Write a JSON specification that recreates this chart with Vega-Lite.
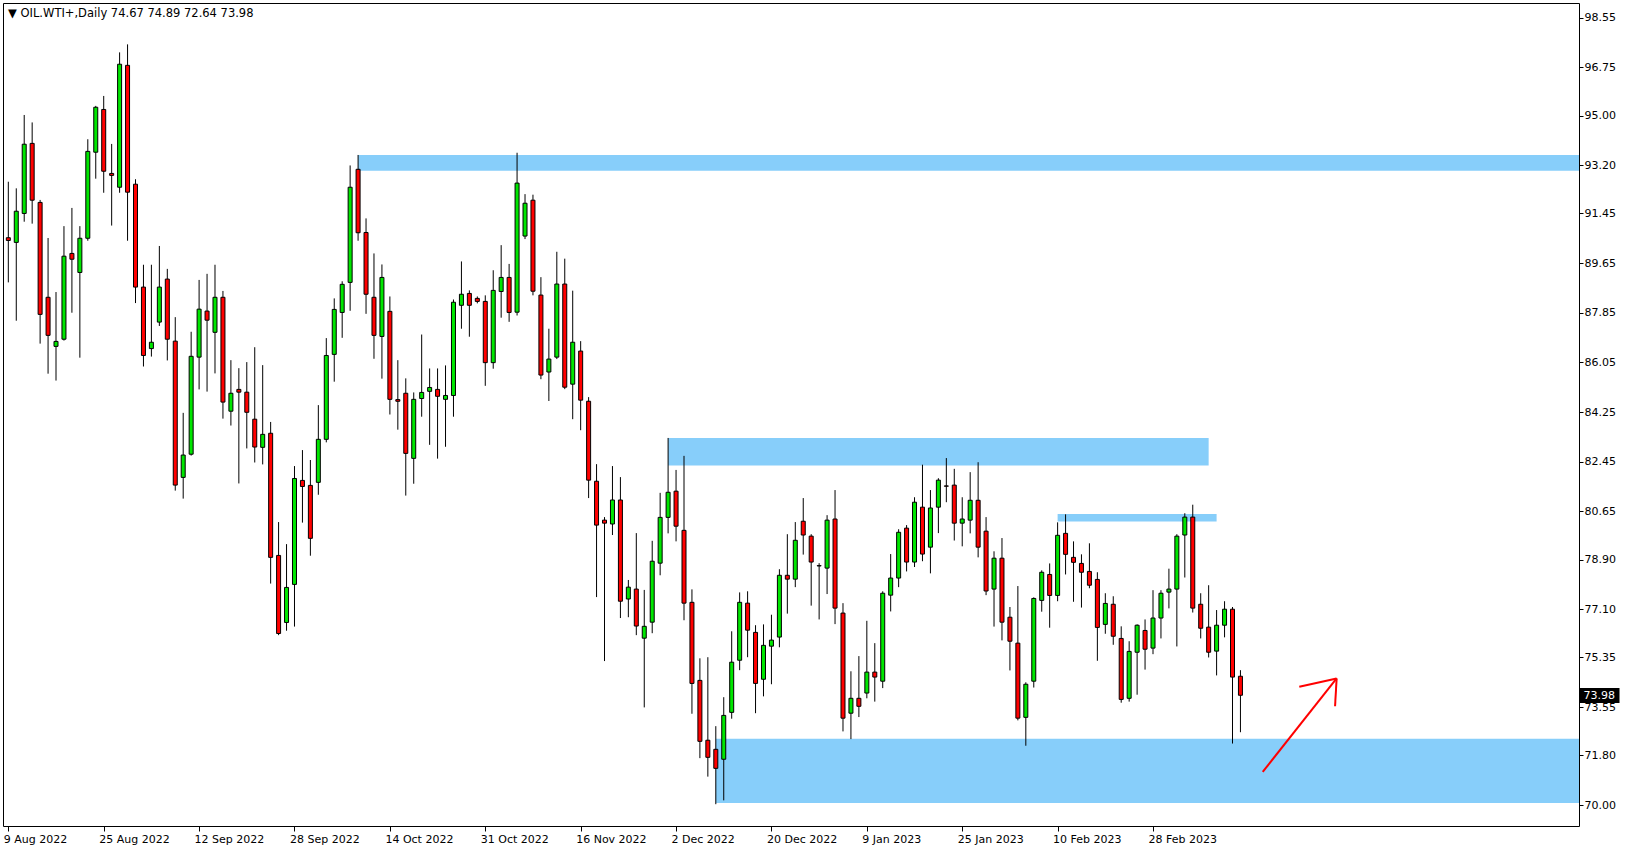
{
  "$schema": "https://vega.github.io/schema/vega-lite/v6.json",
  "width": 1576,
  "height": 823,
  "autosize": {"type": "none"},
  "padding": {"left": 3, "top": 3, "right": 50, "bottom": 24},
  "background": "white",
  "config": {
    "view": {"stroke": "black", "strokeWidth": 1},
    "axis": {"labelFont": "DejaVu Sans", "labelFontSize": 11, "labelColor": "black", "tickColor": "black", "grid": false, "domain": false, "title": null}
  },
  "title": {
    "text": "▼ OIL.WTI+,Daily  74.67 74.89 72.64 73.98",
    "anchor": "start", "frame": "group", "orient": "top",
    "offset": -10, "baseline": "middle", "dx": 5, "dy": 12,
    "font": "DejaVu Sans", "fontSize": 11.5, "fontWeight": "normal", "color": "black"
  },
  "datasets": {
    "zones": [
      {"x1": 45, "x2": 205, "p1": 93.0, "p2": 93.57},
      {"x1": 84, "x2": 152, "p1": 82.31, "p2": 83.31},
      {"x1": 133, "x2": 153, "p1": 80.28, "p2": 80.55},
      {"x1": 90, "x2": 205, "p1": 70.07, "p2": 72.4}
    ],
    "arrow": [
      {"x1": 158.8, "p1": 71.2, "x2": 168.1, "p2": 74.59},
      {"x1": 163.4, "p1": 74.29, "x2": 168.1, "p2": 74.59},
      {"x1": 167.9, "p1": 73.58, "x2": 168.1, "p2": 74.59}
    ],
    "ohlc": [
      {"d":"2022-08-09","o":90.57,"h":92.60,"l":88.95,"c":90.47},
      {"d":"2022-08-10","o":90.40,"h":92.36,"l":87.56,"c":91.53},
      {"d":"2022-08-11","o":91.45,"h":95.02,"l":91.15,"c":93.96},
      {"d":"2022-08-12","o":93.99,"h":94.75,"l":91.08,"c":91.93},
      {"d":"2022-08-15","o":91.85,"h":91.94,"l":86.73,"c":87.79},
      {"d":"2022-08-16","o":88.41,"h":90.56,"l":85.64,"c":87.03},
      {"d":"2022-08-17","o":86.63,"h":88.60,"l":85.39,"c":86.81},
      {"d":"2022-08-18","o":86.89,"h":90.99,"l":86.84,"c":89.90},
      {"d":"2022-08-19","o":90.00,"h":91.65,"l":87.85,"c":89.79},
      {"d":"2022-08-22","o":89.31,"h":90.99,"l":86.22,"c":90.55},
      {"d":"2022-08-23","o":90.55,"h":94.14,"l":90.46,"c":93.70},
      {"d":"2022-08-24","o":93.67,"h":95.35,"l":92.71,"c":95.30},
      {"d":"2022-08-25","o":95.22,"h":95.71,"l":92.20,"c":92.98},
      {"d":"2022-08-26","o":92.90,"h":93.97,"l":91.01,"c":92.83},
      {"d":"2022-08-29","o":92.40,"h":97.29,"l":92.20,"c":96.86},
      {"d":"2022-08-30","o":96.82,"h":97.58,"l":90.46,"c":92.22},
      {"d":"2022-08-31","o":92.51,"h":92.69,"l":88.20,"c":88.78},
      {"d":"2022-09-01","o":88.78,"h":89.59,"l":85.90,"c":86.30},
      {"d":"2022-09-02","o":86.55,"h":89.59,"l":86.26,"c":86.78},
      {"d":"2022-09-05","o":87.51,"h":90.27,"l":87.37,"c":88.78},
      {"d":"2022-09-06","o":89.07,"h":89.44,"l":86.12,"c":86.89},
      {"d":"2022-09-07","o":86.82,"h":87.69,"l":81.40,"c":81.60},
      {"d":"2022-09-08","o":81.88,"h":84.22,"l":81.11,"c":82.69},
      {"d":"2022-09-09","o":82.72,"h":87.16,"l":82.67,"c":86.27},
      {"d":"2022-09-12","o":86.24,"h":89.04,"l":85.07,"c":87.98},
      {"d":"2022-09-13","o":87.91,"h":89.26,"l":84.99,"c":87.58},
      {"d":"2022-09-14","o":87.14,"h":89.59,"l":85.65,"c":88.41},
      {"d":"2022-09-15","o":88.41,"h":88.64,"l":84.01,"c":84.61},
      {"d":"2022-09-16","o":84.28,"h":86.13,"l":83.76,"c":84.93},
      {"d":"2022-09-19","o":85.07,"h":85.84,"l":81.66,"c":84.97},
      {"d":"2022-09-20","o":84.97,"h":86.06,"l":82.93,"c":84.24},
      {"d":"2022-09-21","o":83.99,"h":86.60,"l":82.42,"c":82.98},
      {"d":"2022-09-22","o":82.97,"h":85.95,"l":82.35,"c":83.44},
      {"d":"2022-09-23","o":83.48,"h":83.89,"l":78.03,"c":78.98},
      {"d":"2022-09-26","o":79.05,"h":80.26,"l":76.16,"c":76.22},
      {"d":"2022-09-27","o":76.62,"h":79.46,"l":76.32,"c":77.89},
      {"d":"2022-09-28","o":78.00,"h":82.29,"l":76.47,"c":81.84},
      {"d":"2022-09-29","o":81.77,"h":82.87,"l":80.24,"c":81.55},
      {"d":"2022-09-30","o":81.59,"h":82.51,"l":79.04,"c":79.67},
      {"d":"2022-10-03","o":81.70,"h":84.50,"l":81.25,"c":83.26},
      {"d":"2022-10-04","o":83.26,"h":86.93,"l":83.15,"c":86.30},
      {"d":"2022-10-05","o":86.34,"h":88.37,"l":85.35,"c":87.97},
      {"d":"2022-10-06","o":87.86,"h":88.99,"l":86.94,"c":88.88},
      {"d":"2022-10-07","o":88.95,"h":93.19,"l":87.92,"c":92.40},
      {"d":"2022-10-10","o":93.05,"h":93.57,"l":90.46,"c":90.75},
      {"d":"2022-10-11","o":90.76,"h":91.27,"l":87.81,"c":88.52},
      {"d":"2022-10-12","o":88.41,"h":90.00,"l":86.18,"c":87.03},
      {"d":"2022-10-13","o":86.99,"h":89.60,"l":85.46,"c":89.13},
      {"d":"2022-10-14","o":87.90,"h":88.44,"l":84.16,"c":84.71},
      {"d":"2022-10-17","o":84.70,"h":86.13,"l":83.61,"c":84.64},
      {"d":"2022-10-18","o":84.93,"h":85.47,"l":81.22,"c":82.75},
      {"d":"2022-10-19","o":82.57,"h":84.96,"l":81.65,"c":84.71},
      {"d":"2022-10-20","o":84.74,"h":87.06,"l":84.08,"c":84.96},
      {"d":"2022-10-21","o":85.00,"h":85.83,"l":83.06,"c":85.14},
      {"d":"2022-10-24","o":85.07,"h":85.83,"l":82.56,"c":84.82},
      {"d":"2022-10-25","o":84.71,"h":85.94,"l":82.99,"c":84.85},
      {"d":"2022-10-26","o":84.85,"h":88.33,"l":84.08,"c":88.23},
      {"d":"2022-10-27","o":88.12,"h":89.71,"l":87.27,"c":88.52},
      {"d":"2022-10-28","o":88.55,"h":88.66,"l":86.98,"c":88.12},
      {"d":"2022-10-30","o":88.37,"h":88.44,"l":88.19,"c":88.26},
      {"d":"2022-10-31","o":88.26,"h":88.48,"l":85.20,"c":86.04},
      {"d":"2022-11-01","o":86.04,"h":89.39,"l":85.82,"c":88.66},
      {"d":"2022-11-02","o":88.62,"h":90.30,"l":87.67,"c":89.13},
      {"d":"2022-11-03","o":89.13,"h":89.62,"l":87.52,"c":87.86},
      {"d":"2022-11-04","o":87.87,"h":93.65,"l":87.75,"c":92.55},
      {"d":"2022-11-07","o":90.63,"h":92.15,"l":90.52,"c":91.82},
      {"d":"2022-11-08","o":91.93,"h":92.13,"l":88.48,"c":88.63},
      {"d":"2022-11-09","o":88.49,"h":89.14,"l":85.44,"c":85.59},
      {"d":"2022-11-10","o":85.70,"h":87.27,"l":84.65,"c":86.17},
      {"d":"2022-11-11","o":86.24,"h":90.06,"l":86.17,"c":88.89},
      {"d":"2022-11-14","o":88.89,"h":89.81,"l":85.08,"c":85.15},
      {"d":"2022-11-15","o":85.26,"h":88.65,"l":83.99,"c":86.78},
      {"d":"2022-11-16","o":86.46,"h":86.82,"l":83.59,"c":84.68},
      {"d":"2022-11-17","o":84.64,"h":84.79,"l":81.13,"c":81.78},
      {"d":"2022-11-18","o":81.74,"h":82.36,"l":77.54,"c":80.15},
      {"d":"2022-11-21","o":80.33,"h":80.44,"l":75.22,"c":80.22},
      {"d":"2022-11-22","o":80.19,"h":82.29,"l":79.79,"c":81.06},
      {"d":"2022-11-23","o":81.06,"h":81.89,"l":76.78,"c":77.39},
      {"d":"2022-11-24","o":77.47,"h":78.16,"l":76.81,"c":77.90},
      {"d":"2022-11-25","o":77.83,"h":79.86,"l":76.16,"c":76.49},
      {"d":"2022-11-28","o":76.05,"h":77.80,"l":73.54,"c":76.48},
      {"d":"2022-11-29","o":76.63,"h":79.58,"l":76.23,"c":78.84},
      {"d":"2022-11-30","o":78.77,"h":81.32,"l":78.33,"c":80.43},
      {"d":"2022-12-01","o":80.43,"h":83.31,"l":79.85,"c":81.34},
      {"d":"2022-12-02","o":81.38,"h":82.15,"l":79.56,"c":80.11},
      {"d":"2022-12-05","o":79.96,"h":82.66,"l":76.70,"c":77.32},
      {"d":"2022-12-06","o":77.35,"h":77.82,"l":73.31,"c":74.41},
      {"d":"2022-12-07","o":74.52,"h":75.32,"l":71.70,"c":72.31},
      {"d":"2022-12-08","o":72.35,"h":75.36,"l":71.03,"c":71.73},
      {"d":"2022-12-09","o":72.02,"h":72.86,"l":70.03,"c":71.33},
      {"d":"2022-12-12","o":71.66,"h":73.91,"l":70.17,"c":73.25},
      {"d":"2022-12-13","o":73.36,"h":76.30,"l":73.13,"c":75.18},
      {"d":"2022-12-14","o":75.25,"h":77.71,"l":74.89,"c":77.35},
      {"d":"2022-12-15","o":77.32,"h":77.75,"l":75.36,"c":76.34},
      {"d":"2022-12-16","o":76.26,"h":76.52,"l":73.33,"c":74.41},
      {"d":"2022-12-19","o":74.56,"h":76.55,"l":73.94,"c":75.79},
      {"d":"2022-12-20","o":75.76,"h":76.90,"l":74.38,"c":75.98},
      {"d":"2022-12-21","o":76.09,"h":78.55,"l":75.72,"c":78.33},
      {"d":"2022-12-22","o":78.33,"h":79.82,"l":76.94,"c":78.19},
      {"d":"2022-12-23","o":78.19,"h":80.26,"l":77.90,"c":79.60},
      {"d":"2022-12-27","o":80.29,"h":81.13,"l":79.08,"c":79.79},
      {"d":"2022-12-28","o":79.75,"h":79.82,"l":77.23,"c":78.81},
      {"d":"2022-12-29","o":78.68,"h":78.77,"l":76.73,"c":78.67},
      {"d":"2022-12-30","o":78.59,"h":80.51,"l":77.65,"c":80.33},
      {"d":"2023-01-03","o":80.37,"h":81.42,"l":76.56,"c":77.14},
      {"d":"2023-01-04","o":76.96,"h":77.32,"l":72.67,"c":73.15},
      {"d":"2023-01-05","o":73.33,"h":74.85,"l":72.39,"c":73.87},
      {"d":"2023-01-06","o":73.87,"h":75.40,"l":73.19,"c":73.58},
      {"d":"2023-01-09","o":74.06,"h":76.68,"l":73.87,"c":74.82},
      {"d":"2023-01-10","o":74.82,"h":75.87,"l":73.75,"c":74.64},
      {"d":"2023-01-11","o":74.49,"h":77.75,"l":74.24,"c":77.68},
      {"d":"2023-01-12","o":77.61,"h":79.10,"l":77.02,"c":78.23},
      {"d":"2023-01-13","o":78.23,"h":80.00,"l":77.90,"c":79.89},
      {"d":"2023-01-16","o":80.04,"h":80.15,"l":78.47,"c":78.81},
      {"d":"2023-01-17","o":78.81,"h":81.16,"l":78.63,"c":80.98},
      {"d":"2023-01-18","o":80.80,"h":82.34,"l":78.84,"c":79.10},
      {"d":"2023-01-19","o":79.35,"h":81.42,"l":78.40,"c":80.77},
      {"d":"2023-01-20","o":80.80,"h":81.85,"l":79.86,"c":81.78},
      {"d":"2023-01-23","o":81.57,"h":82.58,"l":80.98,"c":81.56},
      {"d":"2023-01-24","o":81.60,"h":82.19,"l":79.59,"c":80.22},
      {"d":"2023-01-25","o":80.22,"h":81.16,"l":79.38,"c":80.37},
      {"d":"2023-01-26","o":80.33,"h":82.07,"l":79.85,"c":81.05},
      {"d":"2023-01-27","o":81.05,"h":82.43,"l":78.98,"c":79.35},
      {"d":"2023-01-30","o":79.93,"h":80.44,"l":77.61,"c":77.76},
      {"d":"2023-01-31","o":77.83,"h":79.20,"l":76.47,"c":78.95},
      {"d":"2023-02-01","o":78.95,"h":79.68,"l":75.97,"c":76.63},
      {"d":"2023-02-02","o":76.81,"h":77.18,"l":74.88,"c":75.94},
      {"d":"2023-02-03","o":75.87,"h":77.94,"l":73.07,"c":73.15},
      {"d":"2023-02-06","o":73.18,"h":74.45,"l":72.15,"c":74.38},
      {"d":"2023-02-07","o":74.49,"h":77.53,"l":74.26,"c":77.49},
      {"d":"2023-02-08","o":77.42,"h":78.51,"l":77.01,"c":78.44},
      {"d":"2023-02-09","o":78.36,"h":78.76,"l":76.43,"c":77.60},
      {"d":"2023-02-10","o":77.60,"h":80.25,"l":77.39,"c":79.78},
      {"d":"2023-02-13","o":79.85,"h":80.54,"l":78.36,"c":79.09},
      {"d":"2023-02-14","o":78.98,"h":79.56,"l":77.37,"c":78.80},
      {"d":"2023-02-15","o":78.76,"h":79.09,"l":77.16,"c":78.44},
      {"d":"2023-02-16","o":78.47,"h":79.49,"l":77.86,"c":77.97},
      {"d":"2023-02-17","o":78.18,"h":78.44,"l":75.23,"c":76.44},
      {"d":"2023-02-20","o":76.55,"h":77.68,"l":76.21,"c":77.31},
      {"d":"2023-02-21","o":77.28,"h":77.57,"l":75.81,"c":76.12},
      {"d":"2023-02-22","o":76.04,"h":76.48,"l":73.71,"c":73.83},
      {"d":"2023-02-23","o":73.87,"h":75.94,"l":73.75,"c":75.57},
      {"d":"2023-02-24","o":75.54,"h":76.55,"l":74.00,"c":76.52},
      {"d":"2023-02-27","o":76.33,"h":76.73,"l":74.91,"c":75.65},
      {"d":"2023-02-28","o":75.69,"h":77.79,"l":75.47,"c":76.78},
      {"d":"2023-03-01","o":76.78,"h":77.79,"l":76.04,"c":77.68},
      {"d":"2023-03-02","o":77.72,"h":78.57,"l":77.13,"c":77.83},
      {"d":"2023-03-03","o":77.83,"h":79.82,"l":75.75,"c":79.75},
      {"d":"2023-03-06","o":79.79,"h":80.58,"l":78.25,"c":80.44},
      {"d":"2023-03-07","o":80.44,"h":80.89,"l":76.98,"c":77.14},
      {"d":"2023-03-08","o":77.28,"h":77.68,"l":76.04,"c":76.41},
      {"d":"2023-03-09","o":76.45,"h":77.97,"l":75.35,"c":75.54},
      {"d":"2023-03-10","o":75.58,"h":77.07,"l":74.70,"c":76.52},
      {"d":"2023-03-13","o":76.52,"h":77.39,"l":76.08,"c":77.10},
      {"d":"2023-03-14","o":77.10,"h":77.18,"l":72.23,"c":74.64},
      {"d":"2023-03-15","o":74.67,"h":74.89,"l":72.64,"c":73.98}
    ]
  },
  "layer": [
    {
      "data": {"name": "zones"},
      "mark": {"type": "rect", "color": "#87CEFA", "clip": true},
      "encoding": {
        "x": {
          "field": "x1", "type": "quantitative",
          "scale": {"domain": [0.96, 197.96], "nice": false, "zero": false},
          "axis": {
            "orient": "bottom", "title": null,
            "values": [1, 13, 25, 37, 49, 61, 73, 85, 97, 109, 121, 133, 145],
            "labelExpr": "['9 Aug 2022','25 Aug 2022','12 Sep 2022','28 Sep 2022','14 Oct 2022','31 Oct 2022','16 Nov 2022','2 Dec 2022','20 Dec 2022','9 Jan 2023','25 Jan 2023','10 Feb 2023','28 Feb 2023'][(datum.value - 1) / 12]",
            "labelAlign": "left", "labelBaseline": "top", "labelPadding": 2, "tickSize": 5,
            "labelOffset": -5,
            "labelOverlap": false, "labelBound": false, "labelFlush": false
          }
        },
        "x2": {"field": "x2"},
        "y": {
          "field": "p1", "type": "quantitative",
          "scale": {"domain": [69.24, 99.08], "nice": false, "zero": false},
          "axis": {
            "orient": "right", "title": null,
            "values": [98.55, 96.75, 95.0, 93.2, 91.45, 89.65, 87.85, 86.05, 84.25, 82.45, 80.65, 78.9, 77.1, 75.35, 73.55, 71.8, 70.0, 73.98],
            "format": ".2f",
            "labelAlign": "left", "labelBaseline": "middle",
            "tickSize": {"condition": {"test": "datum.value === 73.98", "value": 40}, "value": 4},
            "tickWidth": {"condition": {"test": "datum.value === 73.98", "value": 15}, "value": 1},
            "labelColor": {"condition": {"test": "datum.value === 73.98", "value": "white"}, "value": "black"},
            "labelPadding": {"condition": {"test": "datum.value === 73.98", "value": -36}, "value": 1},
            "labelOverlap": false, "labelBound": false, "labelFlush": false
          }
        },
        "y2": {"field": "p2"}
      }
    },
    {
      "data": {"name": "ohlc"},
      "transform": [{"window": [{"op": "row_number", "as": "n"}], "sort": [{"field": "d"}]}],
      "mark": {"type": "rule", "color": "black", "strokeWidth": 1, "clip": true},
      "encoding": {
        "x": {"field": "n", "type": "quantitative", "scale": {"domain": [0.96, 197.96], "nice": false, "zero": false}, "axis": {"title": null}},
        "y": {"field": "l", "type": "quantitative", "scale": {"domain": [69.24, 99.08], "nice": false, "zero": false}, "axis": {"title": null}},
        "y2": {"field": "h"}
      }
    },
    {
      "data": {"name": "ohlc"},
      "transform": [{"window": [{"op": "row_number", "as": "n"}], "sort": [{"field": "d"}]}],
      "mark": {"type": "bar", "width": 4, "stroke": "black", "strokeWidth": 1, "clip": true},
      "encoding": {
        "x": {"field": "n", "type": "quantitative", "scale": {"domain": [0.96, 197.96], "nice": false, "zero": false}, "axis": {"title": null}},
        "y": {"field": "o", "type": "quantitative", "scale": {"domain": [69.24, 99.08], "nice": false, "zero": false}, "axis": {"title": null}},
        "y2": {"field": "c"},
        "fill": {"condition": {"test": "datum.c >= datum.o", "value": "#00E600"}, "value": "#FF0000"}
      }
    },
    {
      "data": {"name": "arrow"},
      "mark": {"type": "rule", "color": "#FF0000", "strokeWidth": 2, "clip": true},
      "encoding": {
        "x": {"field": "x1", "type": "quantitative", "scale": {"domain": [0.96, 197.96], "nice": false, "zero": false}, "axis": {"title": null}},
        "x2": {"field": "x2"},
        "y": {"field": "p1", "type": "quantitative", "scale": {"domain": [69.24, 99.08], "nice": false, "zero": false}, "axis": {"title": null}},
        "y2": {"field": "p2"}
      }
    }
  ]
}
